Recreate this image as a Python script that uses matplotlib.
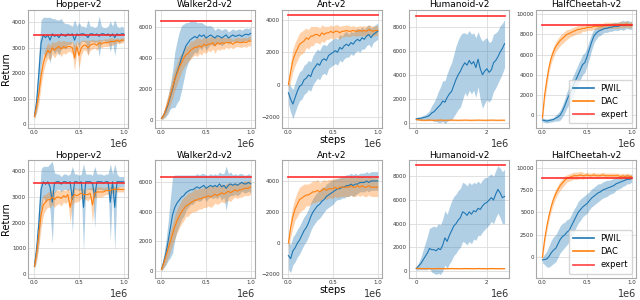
import numpy as np
import matplotlib
matplotlib.use('Agg')
import matplotlib.pyplot as plt

# x grids (steps)
steps = np.linspace(0, 1e6, 41)
steps_hum = np.linspace(0, 2.5e6, 41)

titles = ['Hopper-v2', 'Walker2d-v2', 'Ant-v2', 'Humanoid-v2', 'HalfCheetah-v2']

# ---------------- top row ----------------
hop1_pwil = [300,900,2000,3200,3500,3400,3500,3300,3550,3450,3500,3400,3550,3500,3450,3550,3500,3550,3300,3550,3500,3550,3550,3500,3400,3550,3550,3500,3550,3450,3550,3550,3500,3550,3450,3550,3400,3550,3500,3550,3550]
hop1_pwil_sd = [100,400,800,900,700,800,700,900,600,700,600,700,600,500,500,400,400,300,800,300,500,300,300,300,700,300,300,300,300,800,300,250,300,300,600,300,700,300,300,300,250]
hop1_dac = [300,700,1200,1900,2400,2700,2900,2800,3000,2900,3000,3050,2950,3050,3000,3050,3050,3000,2600,3050,2700,3000,3100,3100,3000,3100,3150,3150,3100,3200,3150,3200,3200,3200,3250,3250,3250,3300,3250,3300,3300]
hop1_dac_sd = [100,250,400,400,350,300,300,300,250,300,250,250,300,250,250,200,200,250,500,200,500,300,200,200,300,200,200,150,200,150,150,150,150,150,150,150,100,100,100,100,100]

wal1_pwil = [100,300,600,1000,1500,2000,2600,3100,3500,4000,4400,4800,5000,5200,5300,5400,5300,5500,5400,5500,5300,5400,5500,5400,5300,5450,5400,5300,5400,5500,5300,5400,5500,5400,5450,5500,5400,5500,5550,5500,5600]
wal1_pwil_sd = [100,200,400,600,800,1200,1800,2000,2200,2100,1800,1500,1300,1200,1100,1000,1000,800,900,700,800,700,600,600,500,500,500,500,500,400,400,400,400,400,400,400,400,400,400,400,400]
wal1_dac = [100,300,700,1100,1600,2100,2600,3000,3400,3700,4000,4200,4300,4500,4600,4700,4700,4800,4700,4900,4800,4900,4900,5000,4800,5000,4900,5000,4950,5000,5000,5000,4900,5000,5050,5000,5000,5050,5000,5100,5100]
wal1_dac_sd = [100,200,400,500,600,700,700,700,700,600,600,600,500,600,500,500,600,500,500,500,500,400,500,400,500,400,400,400,400,300,400,300,300,300,300,300,300,300,300,300,300]

ant1_pwil = [-500,-900,-1200,-800,-400,-100,0,300,400,600,500,900,1100,1300,1200,1500,1600,1500,1800,1900,2000,2100,2000,2300,2200,2400,2500,2400,2600,2500,2700,2800,2700,2900,2800,3000,3100,2900,3100,3200,3300]
ant1_pwil_sd = [700,800,900,900,900,900,900,900,900,900,900,900,900,900,900,900,900,900,800,800,800,800,800,800,800,800,800,700,700,700,700,700,700,700,600,600,600,600,500,500,500]
ant1_dac = [0,800,1500,1900,2200,2500,2600,2700,2900,2800,3000,3000,3100,3100,3000,3200,3100,3200,3200,3300,3200,3300,3300,3200,3300,3300,3350,3300,3300,3350,3300,3300,3350,3300,3350,3300,3400,3350,3300,3350,3350]
ant1_dac_sd = [300,600,700,700,700,700,700,700,600,600,600,600,500,500,500,500,500,400,400,400,400,400,400,400,350,350,350,350,300,300,300,300,300,300,300,300,300,300,300,300,300]

hum1_pwil = [300,350,350,400,450,500,600,800,900,1100,1300,1500,1800,1700,2100,2400,2600,3100,3600,4000,4300,4700,5000,4800,5200,4900,5100,4600,5300,4500,4000,4300,4500,4200,4400,5000,5200,5500,5900,6200,6600]
hum1_pwil_sd = [100,100,150,200,200,300,400,600,800,1000,1300,1500,1700,1800,2000,2200,2400,2600,2800,2900,3000,2800,2500,2600,2500,2500,2400,2500,2300,2600,2800,2700,2600,2500,2400,2400,2300,2200,2200,2100,2000]
hum1_dac = [250,230,210,200,190,200,210,200,190,200,200,210,200,190,200,200,210,200,200,190,200,200,210,200,200,190,200,200,210,200,200,190,200,200,210,200,200,190,200,200,200]
hum1_dac_sd = [60,60,60,50,50,50,50,50,50,50,50,50,50,50,50,50,50,50,50,50,50,50,50,50,50,50,50,50,50,50,50,50,50,50,50,50,50,50,50,50,50]

hc1_pwil = [-500,-550,-600,-550,-500,-450,-300,-200,0,400,900,1500,2000,2500,3000,3500,4000,4500,5000,5200,5800,6500,7200,7800,8100,8300,8400,8500,8600,8600,8700,8700,8800,8800,8800,8900,8900,8900,9000,8900,8900]
hc1_pwil_sd = [200,200,200,200,200,200,300,400,500,600,700,800,900,1000,1000,1000,1000,1000,1000,1000,900,900,800,700,600,500,500,400,400,400,400,400,400,400,400,400,500,400,400,400,400]
hc1_dac = [-300,2000,3500,4800,5700,6300,6800,7100,7400,7600,7800,8000,8100,8200,8300,8400,8500,8500,8600,8600,8700,8700,8700,8800,8800,8800,8800,8800,8900,8900,8900,8900,8900,8900,8900,9000,8900,9000,9000,8900,9000]
hc1_dac_sd = [300,600,600,500,500,500,500,500,500,500,500,500,400,400,400,400,400,400,300,300,300,300,300,300,300,300,300,300,300,300,300,300,300,300,300,300,300,300,300,300,300]

# ---------------- bottom row ----------------
hop2_pwil = [300,1000,2000,3300,3600,3500,3600,3400,2800,3550,3600,3600,3500,3600,3600,3550,3600,2900,3600,3600,3550,3600,2600,3600,3600,3600,3550,3000,3600,3600,3600,3550,3600,3600,2800,3600,2600,3600,3600,3600,3600]
hop2_pwil_sd = [100,400,800,800,600,700,600,900,1600,400,300,300,300,300,300,300,300,1300,300,300,300,300,1700,300,300,300,300,1200,300,300,300,300,300,300,1500,300,1700,300,200,200,200]
hop2_dac = [300,800,1600,2300,2700,2800,2900,2900,3000,2900,3000,3000,2950,3050,3000,3100,2600,3000,3100,3050,3100,3150,3100,3100,3100,3150,2700,3150,3200,3200,3200,3200,3250,3250,3250,3300,3300,3300,3300,3300,3300]
hop2_dac_sd = [100,300,500,500,400,300,300,300,300,300,300,250,300,250,250,250,600,300,300,250,250,200,200,200,250,200,700,200,200,200,200,150,150,150,150,150,100,100,100,100,100]

wal2_pwil = [100,600,1200,2000,2900,3800,4300,4600,4800,5000,5100,5300,5400,5500,5500,5600,5700,5600,5700,5800,5600,5700,5800,5700,5800,5700,5900,5700,5800,5600,5800,5900,5800,5900,5800,5900,6000,5900,5900,6000,5900]
wal2_pwil_sd = [100,400,800,1300,2000,2600,2200,1900,1700,1500,1400,1200,1100,1000,1000,900,900,900,900,800,900,800,800,800,800,800,800,900,800,1500,800,800,700,700,700,700,600,600,600,600,600]
wal2_dac = [100,500,1000,1500,2000,2500,3000,3400,3700,4000,4200,4400,4500,4600,4700,4800,4800,4900,4900,5000,5000,5100,5000,5100,5200,5100,5200,5300,5200,5300,5400,5300,5400,5500,5400,5500,5500,5600,5600,5600,5700]
wal2_dac_sd = [100,300,500,600,700,700,800,800,800,800,800,700,800,700,700,800,700,700,700,700,700,700,700,700,600,600,600,600,600,600,600,600,500,500,500,500,500,500,500,500,500]

ant2_pwil = [-800,-1000,-500,-300,0,200,500,800,1000,1300,1700,2000,2200,2400,2500,2700,2800,3000,3100,3200,3300,3400,3500,3500,3600,3600,3700,3700,3800,3700,3800,3800,3900,3900,3900,4000,3900,4000,4000,4000,4000]
ant2_pwil_sd = [900,900,900,900,900,900,900,900,900,900,900,900,900,900,900,900,800,800,800,800,800,700,700,700,700,700,700,700,700,700,700,600,600,600,600,600,600,600,600,600,600]
ant2_dac = [0,1000,1700,2200,2500,2800,2900,3000,3100,3100,3200,3300,3300,3400,3300,3400,3500,3400,3500,3500,3500,3600,3500,3600,3600,3600,3600,3600,3700,3600,3600,3700,3600,3700,3600,3600,3700,3600,3600,3600,3600]
ant2_dac_sd = [400,600,700,700,800,800,800,800,700,700,700,700,700,700,600,600,600,600,600,600,600,600,600,600,600,600,600,600,600,600,600,600,600,600,600,600,600,600,600,600,600]

hum2_pwil = [200,400,600,900,1200,1500,1900,1800,1800,1700,1900,1800,2200,2800,2500,3000,3400,3800,4000,4300,4500,5000,4900,4700,5000,4800,5100,5000,5300,5200,5500,5700,5800,6000,6200,6000,6500,6900,6600,6200,6300]
hum2_pwil_sd = [150,300,500,800,1100,1400,1700,1900,2000,2000,2100,2100,2200,2300,2300,2400,2500,2500,2500,2500,2500,2500,2500,2500,2500,2500,2400,2400,2300,2200,2200,2200,2100,2100,2000,2000,2000,2000,2100,2200,2300]
hum2_dac = [230,220,210,200,200,210,200,200,190,200,210,200,200,200,190,200,210,200,200,200,190,200,210,200,200,200,190,200,210,200,200,200,190,200,210,200,200,200,190,200,200]
hum2_dac_sd = [60,60,50,50,50,50,50,50,50,50,50,50,50,50,50,50,50,50,50,50,50,50,50,50,50,50,50,50,50,50,50,50,50,50,50,50,50,50,50,50,50]

hc2_pwil = [-300,-250,-200,100,500,800,1000,1500,2000,2300,2500,2800,3000,3500,4000,4500,5000,5300,5600,5800,6000,6300,6600,6800,7000,7200,7300,7500,7600,7700,7800,7900,8000,8200,8300,8400,8500,8600,8700,8700,8800]
hc2_pwil_sd = [300,600,900,1200,1400,1500,1500,1500,1500,1500,1400,1400,1300,1300,1300,1200,1200,1200,1100,1100,1100,1000,1000,1000,1000,1000,900,900,900,900,800,800,800,700,700,700,600,600,500,500,400]
hc2_dac = [0,2000,3500,4700,5700,6500,7100,7600,8000,8300,8600,8800,8900,9000,9100,9100,9100,9200,9100,9100,9200,9100,9100,9200,9100,9100,9100,9200,9100,9100,9100,9100,9100,9100,9100,9000,9100,9000,9100,9000,9000]
hc2_dac_sd = [300,500,500,500,500,500,500,500,500,500,500,400,400,400,400,400,400,400,400,300,300,300,300,300,300,300,300,300,300,300,300,300,300,300,300,300,300,300,300,300,300]

experts_top = [3520, 6400, 4280, 8900, 8950]
experts_bot = [3530, 6380, 4250, 9000, 8880]

ylims_top = [(-140, 4480), (-500, 7100), (-2650, 4600), (-420, 9400), (-1250, 10400)]
ylims_bot = [(-150, 4430), (-470, 7490), (-2230, 5320), (-580, 9350), (-2300, 10810)]
yticks_top = [[0, 1000, 2000, 3000, 4000], [0, 2000, 4000, 6000], [-2000, 0, 2000, 4000],
              [0, 2000, 4000, 6000, 8000], [0, 2000, 4000, 6000, 8000, 10000]]
yticks_bot = [[0, 1000, 2000, 3000, 4000], [0, 2000, 4000, 6000], [-2000, 0, 2000, 4000],
              [0, 2000, 4000, 6000, 8000], [0, 2500, 5000, 7500, 10000]]

rows = [
    [(hop1_pwil, hop1_pwil_sd, hop1_dac, hop1_dac_sd),
     (wal1_pwil, wal1_pwil_sd, wal1_dac, wal1_dac_sd),
     (ant1_pwil, ant1_pwil_sd, ant1_dac, ant1_dac_sd),
     (hum1_pwil, hum1_pwil_sd, hum1_dac, hum1_dac_sd),
     (hc1_pwil, hc1_pwil_sd, hc1_dac, hc1_dac_sd)],
    [(hop2_pwil, hop2_pwil_sd, hop2_dac, hop2_dac_sd),
     (wal2_pwil, wal2_pwil_sd, wal2_dac, wal2_dac_sd),
     (ant2_pwil, ant2_pwil_sd, ant2_dac, ant2_dac_sd),
     (hum2_pwil, hum2_pwil_sd, hum2_dac, hum2_dac_sd),
     (hc2_pwil, hc2_pwil_sd, hc2_dac, hc2_dac_sd)],
]

BLUE = '#1f77b4'
ORANGE = '#ff7f0e'
RED = '#ff2020'

fig, axes = plt.subplots(2, 5, figsize=(6.4, 3.0), dpi=100)
fig.subplots_adjust(left=0.044, right=0.994, top=0.966, bottom=0.074, wspace=0.27, hspace=0.28)

for r in range(2):
    experts = experts_top if r == 0 else experts_bot
    ylims = ylims_top if r == 0 else ylims_bot
    yticks = yticks_top if r == 0 else yticks_bot
    for c in range(5):
        ax = axes[r, c]
        x = steps_hum if c == 3 else steps
        pw, pw_sd, dc, dc_sd = [np.array(a, dtype=float) for a in rows[r][c]]
        ax.fill_between(x, pw - pw_sd, pw + pw_sd, color=BLUE, alpha=0.35, lw=0)
        ax.fill_between(x, dc - dc_sd, dc + dc_sd, color=ORANGE, alpha=0.35, lw=0)
        l1, = ax.plot(x, pw, color=BLUE, lw=0.8, label='PWIL')
        l2, = ax.plot(x, dc, color=ORANGE, lw=0.8, label='DAC')
        l3, = ax.plot([x[0], x[-1]], [experts[c], experts[c]], color=RED, lw=1.3, alpha=0.85, label='expert')
        ax.set_title(titles[c], fontsize=6.5, pad=2)
        ax.set_ylim(*ylims[c])
        ax.set_yticks(yticks[c])
        if c == 3:
            ax.set_xlim(-0.2e6, 2.63e6)
            ax.set_xticks([0, 2e6])
        else:
            ax.set_xlim(-0.07e6, 1.05e6)
            ax.set_xticks([0, 0.5e6, 1e6])
        ax.tick_params(labelsize=4, length=0, pad=1.5, colors='#333333')
        ax.xaxis.get_offset_text().set_fontsize(7)
        ax.grid(color='#dcdcdc', lw=0.6)
        ax.set_axisbelow(True)
        for s in ax.spines.values():
            s.set_color('#a8a8a8')
            s.set_linewidth(0.8)
        if c == 0:
            ax.set_ylabel('Return', fontsize=7, labelpad=1)
        if c == 2:
            ax.set_xlabel('steps', fontsize=7, labelpad=0)
        if c == 4:
            leg = ax.legend(handles=[l1, l2, l3], loc='lower right', fontsize=6,
                            handlelength=2.5, borderpad=0.5, labelspacing=0.5,
                            framealpha=0.8, edgecolor='#cccccc')
            for h in leg.get_lines():
                h.set_linewidth(1.2)

plt.savefig('out.png', dpi=100)
